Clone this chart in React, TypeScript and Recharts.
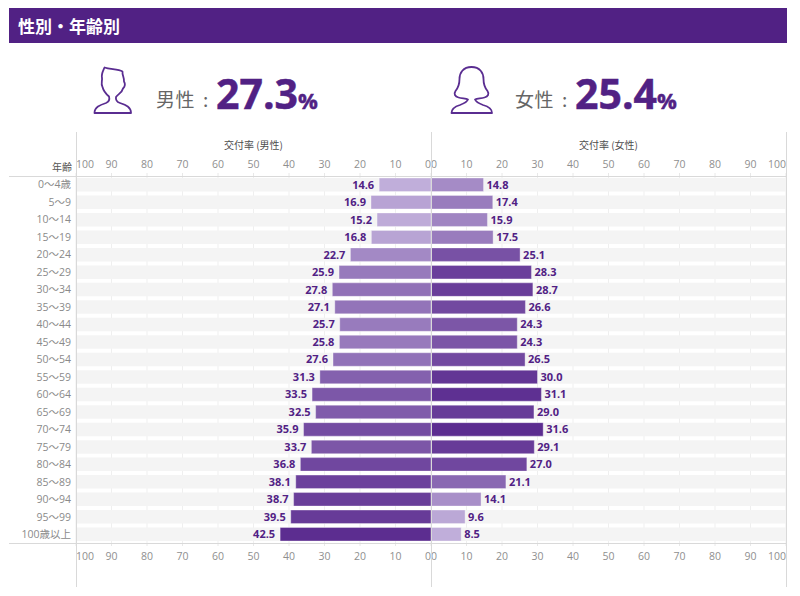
import { BarChart, Bar, XAxis, YAxis, Cell, CartesianGrid, LabelList } from "recharts";

const ages = [
  "0〜4歳", "5〜9", "10〜14", "15〜19", "20〜24", "25〜29", "30〜34",
  "35〜39", "40〜44", "45〜49", "50〜54", "55〜59", "60〜64", "65〜69",
  "70〜74", "75〜79", "80〜84", "85〜89", "90〜94", "95〜99", "100歳以上",
];
const maleRates = [
  14.6, 16.9, 15.2, 16.8, 22.7, 25.9, 27.8, 27.1, 25.7, 25.8, 27.6,
  31.3, 33.5, 32.5, 35.9, 33.7, 36.8, 38.1, 38.7, 39.5, 42.5,
];
const femaleRates = [
  14.8, 17.4, 15.9, 17.5, 25.1, 28.3, 28.7, 26.6, 24.3, 24.3, 26.5,
  30.0, 31.1, 29.0, 31.6, 29.1, 27.0, 21.1, 14.1, 9.6, 8.5,
];
const xTicks = [0, 10, 20, 30, 40, 50, 60, 70, 80, 90, 100];

const maleData = ages.map((age, i) => ({ age, rate: maleRates[i] }));
const femaleData = ages.map((age, i) => ({ age, rate: femaleRates[i] }));

const FONT = '"Open Sans", "Noto Sans CJK JP", sans-serif';
const JP = '"Noto Sans CJK JP", sans-serif';
const PURPLE = "#512184";
const BAR_SIZE = 13.5;

// colour runs from pale to dark over each side's own value range
function shade(rates: number[], v: number) {
  const lo = Math.min(...rates);
  const hi = Math.max(...rates);
  const t = (v - lo) / (hi - lo);
  const mix = (a: number, b: number) => Math.round(a + (b - a) * t);
  return `rgb(${mix(192, 92)},${mix(174, 45)},${mix(218, 144)})`;
}

function tickFor(startAt: number, endAt: number, textY: number) {
  return function Tick(props: any) {
    const { x, payload } = props;
    const v = payload.value;
    const anchor = v === startAt ? "start" : v === endAt ? "end" : "middle";
    return (
      <text x={x} y={textY} textAnchor={anchor} fontSize={10.5} fontFamily={FONT} fill="#8f8f8f">
        {v}
      </text>
    );
  };
}

function rule(left: number, top: number, width: number, height: number) {
  return (
    <div style={{ position: "absolute", left, top, width, height, background: "#d9d9d9" }} />
  );
}

function Stat({ x, icon, name, value }: { x: number; icon: any; name: string; value: string }) {
  return (
    <>
      {icon}
      <span style={{ position: "absolute", left: x, top: 85, fontFamily: JP, fontSize: 19, lineHeight: "28px", color: "#666", letterSpacing: 0.5, whiteSpace: "nowrap" }}>
        {name}
      </span>
      <span style={{ position: "absolute", left: x + 47, top: 85, fontFamily: JP, fontSize: 19, lineHeight: "28px", color: "#666" }}>
        :
      </span>
      <span style={{ position: "absolute", left: x + 60, top: 65, fontFamily: FONT, fontSize: 41, fontWeight: 700, lineHeight: "56px", color: PURPLE, whiteSpace: "nowrap", WebkitTextStroke: "0.5px #512184" }}>
        {value}
        <span style={{ fontSize: 22 }}>%</span>
      </span>
    </>
  );
}

const maleIcon = (
  <svg style={{ position: "absolute", left: 90, top: 62 }} width={46} height={54} viewBox="90 62 46 54">
    <path
      d="M104.5 67.5 C110 69.5 118 69 122.5 71.5 C122 75 124.5 78 124 81.5 C125.5 84 124.5 87 123 88.5 C122 93 118 94 116 97 C115.5 100 117 102 120 103 C126 105 131 107 131 113 L94.5 113 C94.5 107 100 105 106 103 C108.5 102 110 100 109 96.5 C106 94 103.5 91 102.5 87 C100.5 84 102.5 81 102 78 C101 74 103 71 104.5 67.5 Z"
      fill="none" stroke="#5a2d91" strokeWidth={1.8} strokeLinejoin="round"
    />
  </svg>
);

const femaleIcon = (
  <svg style={{ position: "absolute", left: 448, top: 62 }} width={48} height={54} viewBox="448 62 48 54">
    <path
      d="M471.5 67 C463 67 459.5 73 459.5 79 C459.5 85 458 88 455.5 91 C453.5 94 455 96.5 458.5 97.5 C462 98.5 466 98.5 468 99.5 C467 102 464 103.5 460 105 C455 106.5 451.5 108.5 451.5 113 L492 113 C492 108.5 488.5 106.5 483 105 C479 103.5 476 102 475 99.5 C477 98.5 481 98.5 484.5 97.5 C488 96.5 489.5 94 487.5 91 C485 88 483.5 85 483.5 79 C483.5 73 480 67 471.5 67 Z"
      fill="none" stroke="#5a2d91" strokeWidth={1.8} strokeLinejoin="round"
    />
  </svg>
);

function Pyramid({
  data, rates, left, width, reversed, title, showAges, startAt, endAt, labelGap,
}: {
  data: { age: string; rate: number }[]; rates: number[]; left: number; width: number;
  reversed: boolean; title: string; showAges: boolean; startAt: number; endAt: number; labelGap: number;
}) {
  return (
    <div style={{ position: "absolute", left, top: 132 }}>
      <BarChart
        width={width}
        height={455}
        data={data}
        layout="vertical"
        margin={{ top: 0, right: 0, bottom: 0, left: 0 }}
        barSize={BAR_SIZE}
        barGap={-BAR_SIZE}
      >
        <CartesianGrid horizontal={false} vertical stroke="#efefef" xAxisId="top" />
        <XAxis
          xAxisId="top"
          type="number"
          orientation="top"
          domain={[0, 100]}
          ticks={xTicks}
          reversed={reversed}
          height={44}
          interval={0}
          tick={tickFor(startAt, endAt, 36)}
          tickSize={3}
          tickLine={{ stroke: "#e8e8e8" }}
          axisLine={false}
          label={{ value: title, position: "insideTop", offset: 10, fontSize: 10, fontFamily: JP, fill: "#4d4d4d" }}
        />
        <XAxis
          xAxisId="bottom"
          type="number"
          orientation="bottom"
          domain={[0, 100]}
          ticks={xTicks}
          reversed={reversed}
          height={44}
          interval={0}
          tick={tickFor(startAt, endAt, 428)}
          tickSize={3}
          tickLine={{ stroke: "#e8e8e8" }}
          axisLine={false}
        />
        <YAxis
          type="category"
          dataKey="age"
          width={showAges ? 67 : 0}
          hide={!showAges}
          interval={0}
          axisLine={false}
          tickLine={false}
          tickMargin={5}
          tickSize={0}
          tick={{ fontSize: 10.5, fontFamily: FONT, fill: "#8a8a8a" }}
        />
        {/* invisible twin so the bottom axis has a series of its own */}
        <Bar xAxisId="bottom" dataKey="rate" isAnimationActive={false} fill="none" stroke="none" />
        <Bar
          xAxisId="top"
          dataKey="rate"
          isAnimationActive={false}
          background={{ fill: "#f4f4f4" }}
          stroke="#ffffff"
          strokeOpacity={0.35}
        >
          {data.map((d) => (
            <Cell key={d.age} fill={shade(rates, d.rate)} />
          ))}
          <LabelList
            dataKey="rate"
            position="right"
            offset={labelGap}
            formatter={(v: any) => Number(v).toFixed(1)}
            style={{ fontSize: 11, fontWeight: 700, fontFamily: FONT, fill: PURPLE }}
          />
        </Bar>
      </BarChart>
    </div>
  );
}

export default function App() {
  return (
    <div style={{ position: "absolute", left: 0, top: 0, width: 800, height: 596, background: "#fff", overflow: "hidden" }}>
      <div style={{ position: "absolute", left: 9, top: 8, width: 778, height: 35, background: PURPLE, color: "#fff", fontFamily: JP, fontWeight: 700, fontSize: 17, lineHeight: "35px", textIndent: 9 }}>
        性別・年齢別
      </div>
      <Stat x={156} icon={maleIcon} name="男性" value="27.3" />
      <Stat x={515} icon={femaleIcon} name="女性" value="25.4" />

      <Pyramid data={maleData} rates={maleRates} left={9} width={422} reversed title="交付率 (男性)" showAges startAt={100} endAt={0} labelGap={5} />
      <Pyramid data={femaleData} rates={femaleRates} left={431} width={355} reversed={false} title="交付率 (女性)" showAges={false} startAt={0} endAt={100} labelGap={3} />

      <div style={{ position: "absolute", left: 52, top: 160, fontFamily: JP, fontSize: 10, lineHeight: "14px", color: "#555" }}>年齢</div>
      {rule(9, 176, 778, 1)}
      {rule(9, 543, 778, 1)}
      {rule(76, 132, 1, 455)}
      {rule(431, 132, 1, 455)}
      {rule(786, 132, 1, 455)}
    </div>
  );
}
